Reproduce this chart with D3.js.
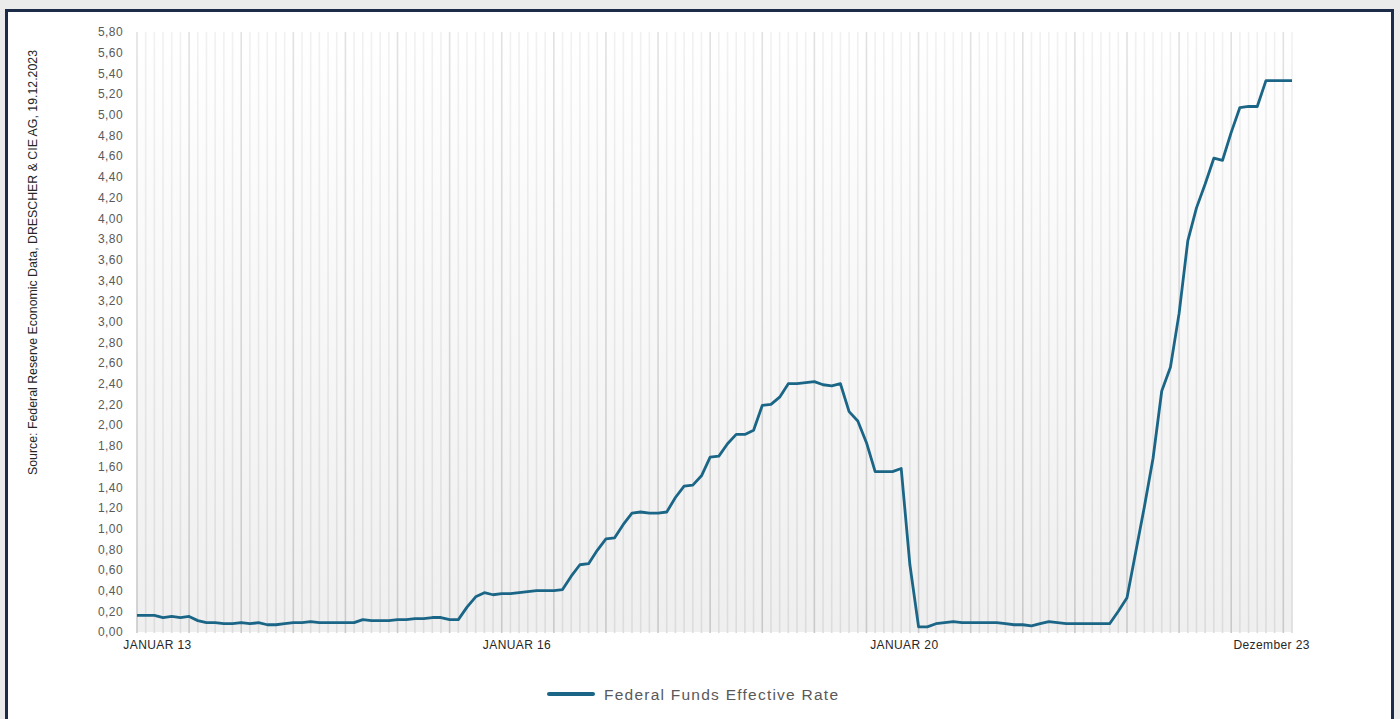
<!DOCTYPE html>
<html>
<head>
<meta charset="utf-8">
<script src="https://cdn.jsdelivr.net/npm/d3@7"></script>
<style>
  body { margin: 0; background: #ebebeb; }
  svg { display: block; }
</style>
</head>
<body>
<svg class="main" width="1400" height="719"></svg>
<script>
// monthly effective fed funds rate, Oct 2012 - Nov 2023
var rates2012 = [0.16, 0.16, 0.16]
var rates2013 = [0.14, 0.15, 0.14, 0.15, 0.11, 0.09, 0.09, 0.08, 0.08, 0.09, 0.08, 0.09]
var rates2014 = [0.07, 0.07, 0.08, 0.09, 0.09, 0.10, 0.09, 0.09, 0.09, 0.09, 0.09, 0.12]
var rates2015 = [0.11, 0.11, 0.11, 0.12, 0.12, 0.13, 0.13, 0.14, 0.14, 0.12, 0.12, 0.24]
var rates2016 = [0.34, 0.38, 0.36, 0.37, 0.37, 0.38, 0.39, 0.40, 0.40, 0.40, 0.41, 0.54]
var rates2017 = [0.65, 0.66, 0.79, 0.90, 0.91, 1.04, 1.15, 1.16, 1.15, 1.15, 1.16, 1.30]
var rates2018 = [1.41, 1.42, 1.51, 1.69, 1.70, 1.82, 1.91, 1.91, 1.95, 2.19, 2.20, 2.27]
var rates2019 = [2.40, 2.40, 2.41, 2.42, 2.39, 2.38, 2.40, 2.13, 2.04, 1.83, 1.55, 1.55]
var rates2020 = [1.55, 1.58, 0.65, 0.05, 0.05, 0.08, 0.09, 0.10, 0.09, 0.09, 0.09, 0.09]
var rates2021 = [0.09, 0.08, 0.07, 0.07, 0.06, 0.08, 0.10, 0.09, 0.08, 0.08, 0.08, 0.08]
var rates2022 = [0.08, 0.08, 0.20, 0.33, 0.77, 1.21, 1.68, 2.33, 2.56, 3.08, 3.78, 4.10]
var rates2023 = [4.33, 4.58, 4.56, 4.83, 5.07, 5.08, 5.08, 5.33, 5.33, 5.33, 5.33]

var rates = [].concat(rates2012, rates2013, rates2014, rates2015, rates2016, rates2017,
  rates2018, rates2019, rates2020, rates2021, rates2022, rates2023)

// y ticks
var yTicks = [0, 0.2, 0.4, 0.6, 0.8, 1, 1.2, 1.4, 1.6, 1.8, 2, 2.2, 2.4, 2.6, 2.8,
  3, 3.2, 3.4, 3.6, 3.8, 4, 4.2, 4.4, 4.6, 4.8, 5, 5.2, 5.4, 5.6, 5.8]

// x labels and the month index they sit under
var xLabels = ['JANUAR 13', 'JANUAR 16', 'JANUAR 20', 'Dezember 23']
var xLabelIndex = [2.3, 43.7, 88.3, 130.6]

var seriesName = 'Federal Funds Effective Rate'
var source = 'Source: Federal Reserve Economic Data, DRESCHER & CIE AG, 19.12.2023'

const svg = d3.select('svg.main')
const margin = {top: 32, right: 108, bottom: 87, left: 137}
const width = 1400 - margin.left - margin.right
const height = 719 - margin.top - margin.bottom
const lineColor = '#1b6687'

// frame
svg.append('rect')
  .attr('x', 6.5).attr('y', 10.5)
  .attr('width', 1386).attr('height', 730)
  .attr('fill', '#ffffff')
  .attr('stroke', '#1c2c48')
  .attr('stroke-width', 3)

// gradients: plot background and the two kinds of gridlines
var defs = svg.append('defs')
function vGradient(id, top, bottom) {
  var g = defs.append('linearGradient')
    .attr('id', id)
    .attr('gradientUnits', 'userSpaceOnUse')
    .attr('x1', 0).attr('y1', 0).attr('x2', 0).attr('y2', height)
  g.append('stop').attr('offset', '0%').attr('stop-color', top)
  g.append('stop').attr('offset', '100%').attr('stop-color', bottom)
}
vGradient('bg', '#ffffff', '#efefef')
vGradient('gridMinor', '#f1f1f1', '#dcdcdc')
vGradient('gridMajor', '#e2e2e2', '#c9c9c9')

var body = svg.append('g')
  .attr('transform', `translate(${margin.left}, ${margin.top})`)

body.append('rect')
  .attr('width', width).attr('height', height)
  .attr('fill', 'url(#bg)')

// scales
const xScale = d3.scaleLinear()
  .domain([0, rates.length - 1])
  .range([0, width])

const yScale = d3.scaleLinear()
  .domain([0, 5.8])
  .range([height, 0])

// vertical gridlines, one per month, darker every 6th
body.append('g').attr('class', 'grid')
  .selectAll('rect')
  .data(d3.range(rates.length))
  .join('rect')
  .attr('x', d => xScale(d) - 0.8)
  .attr('width', 1.6)
  .attr('y', 0).attr('height', height + 1)
  .attr('fill', d => d % 6 == 0 ? 'url(#gridMajor)' : 'url(#gridMinor)')

// y axis
const yAxis = body.append('g')
  .attr('id', 'yAxis')
  .call(d3.axisLeft(yScale)
    .tickValues(yTicks)
    .tickSize(0)
    .tickPadding(14)
    .tickFormat(d => d3.format('.2f')(d).replace('.', ',')))
yAxis.select('.domain').remove()
yAxis.selectAll('text')
  .attr('fill', '#595959')
  .attr('font-family', 'Liberation Sans, Arial, sans-serif')
  .attr('font-size', 12)
  .attr('letter-spacing', 0.4)

// x axis
const xAxis = body.append('g')
  .attr('id', 'xAxis')
  .attr('transform', `translate(0, ${height})`)
  .call(d3.axisBottom(xScale)
    .tickValues(xLabelIndex)
    .tickSize(0)
    .tickPadding(8.5)
    .tickFormat((d, i) => xLabels[i]))
xAxis.select('.domain').remove()
xAxis.selectAll('text')
  .attr('fill', '#262626')
  .attr('font-family', 'Liberation Sans, Arial, sans-serif')
  .attr('font-size', 12)
  .attr('letter-spacing', 0.4)

// the line
var line = d3.line()
  .x((d, i) => xScale(i))
  .y(d => yScale(d))

body.append('path')
  .datum(rates)
  .attr('d', line)
  .attr('fill', 'none')
  .attr('stroke', lineColor)
  .attr('stroke-width', 2.8)
  .attr('stroke-linejoin', 'round')

// source note
svg.append('text')
  .attr('transform', 'translate(37, 475) rotate(-90)')
  .attr('font-family', 'Liberation Sans, Arial, sans-serif')
  .attr('font-size', 12.5)
  .attr('fill', '#262626')
  .attr('textLength', 425)
  .attr('lengthAdjust', 'spacingAndGlyphs')
  .text(source)

// legend
var legend = svg.append('g').attr('transform', 'translate(547, 694)')
legend.append('line')
  .attr('x1', 2).attr('x2', 46)
  .attr('stroke', lineColor)
  .attr('stroke-width', 4)
  .attr('stroke-linecap', 'round')
legend.append('text')
  .attr('x', 57).attr('y', 5.5)
  .attr('font-family', 'Liberation Sans, Arial, sans-serif')
  .attr('font-size', 15.5)
  .attr('fill', '#595959')
  .attr('textLength', 234)
  .attr('lengthAdjust', 'spacing')
  .text(seriesName)
</script>
</body>
</html>
